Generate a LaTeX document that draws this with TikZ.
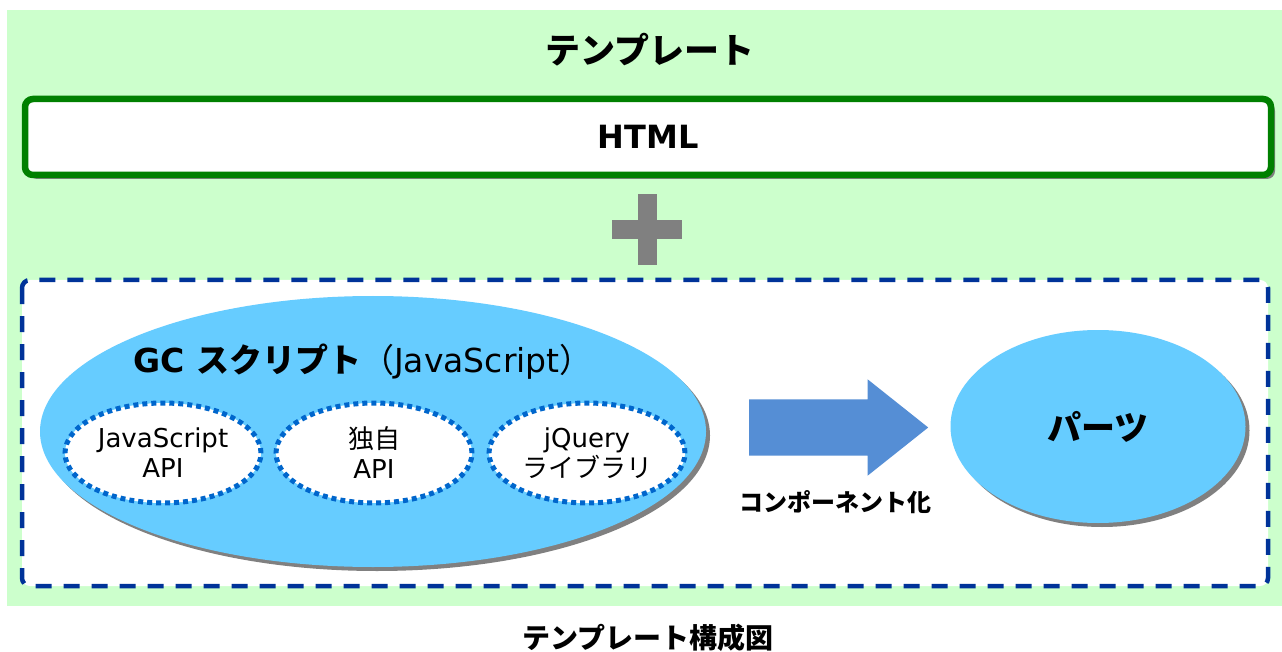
\documentclass[tikz,border=0pt]{standalone}
\usepackage{fontspec}
\setmainfont{DejaVu Sans}
\newfontfamily\jpfont{Noto Sans CJK JP}
\usetikzlibrary{shapes.geometric, shapes.arrows, shadows, positioning}
\definecolor{PanelGreen}{RGB}{204,255,204}
\definecolor{HtmlGreen}{RGB}{0,128,0}
\definecolor{ShadowGray}{RGB}{128,128,128}
\definecolor{DashBlue}{RGB}{0,51,153}
\definecolor{DotBlue}{RGB}{0,102,204}
\definecolor{SkyFill}{RGB}{102,204,255}
\definecolor{ArrowBlue}{RGB}{85,142,213}

\begin{document}
\begin{tikzpicture}[
  x=1pt, y=-1pt,
  shade4/.style={drop shadow={shadow xshift=4pt, shadow yshift=-4pt,
                 fill=ShadowGray, opacity=1}},
  htmlbox/.style={rectangle, rounded corners=8pt, draw=HtmlGreen,
                  line width=6.5pt, fill=white, minimum width=1246pt,
                  minimum height=76pt, shade4,
                  font=\fontsize{32}{36}\selectfont\bfseries},
  groupbox/.style={draw=DashBlue, line width=4.5pt, rounded corners=8pt,
                   fill=white, dash pattern=on 16pt off 12pt},
  blob/.style={ellipse, fill=SkyFill, inner sep=0pt, shade4},
  apibox/.style={ellipse, fill=white, draw=DotBlue, line width=5pt,
                 dash pattern=on 5pt off 4pt, inner sep=0pt,
                 minimum width=196pt, minimum height=100pt, align=center,
                 font=\fontsize{26}{30}\selectfont},
  convarrow/.style={single arrow, fill=ArrowBlue, inner sep=28pt,
                    single arrow head extend=20pt,
                    single arrow tip angle=77, minimum height=179pt,
                    anchor=tail},
  jlabel/.style={font=\jpfont\bfseries}
]
\useasboundingbox (0,0) rectangle (1282,652);

% backdrop and the outer group
\fill[PanelGreen] (7,10) rectangle (1282,606);
\draw[groupbox] (22,280) rectangle (1268,586);

% top part
\node[jlabel, font=\fontsize{35}{39}\selectfont\jpfont\bfseries]
    (tpl) at (650,50) {テンプレート};
\node[htmlbox] (html) at (648,137) {HTML};

% plus sign
\fill[ShadowGray] (638,194) rectangle (657,265);
\fill[ShadowGray] (612,220) rectangle (682,239);

% script side
\node[blob, minimum width=666pt, minimum height=271pt]
    (gcs) at (373,431.5) {};
\node[font=\fontsize{33}{37}\selectfont] (gcsname) at (363,362)
    {\textbf{GC {\jpfont スクリプト}}{\jpfont （}JavaScript{\jpfont ）}};

\node[apibox] (jsapi) at (163,453) {JavaScript\\API};
\node[apibox] (ownapi) at (374,453) {{\jpfont 独自}\\API};
\node[apibox] (jqlib) at (587,453) {jQuery\\{\jpfont ライブラリ}};

% conversion to parts
\node[convarrow] (conv) at (749,427.5) {};
\node[font=\fontsize{24}{28}\selectfont\jpfont\bfseries]
    (convtxt) at (835,502) {コンポーネント化};

\node[blob, minimum width=295pt, minimum height=193pt,
      font=\fontsize{34}{38}\selectfont\jpfont\bfseries]
    (parts) at (1098,426.5) {パーツ};

% caption
\node[font=\fontsize{28}{32}\selectfont\jpfont\bfseries]
    (caption) at (648,638) {テンプレート構成図};

\end{tikzpicture}
\end{document}
